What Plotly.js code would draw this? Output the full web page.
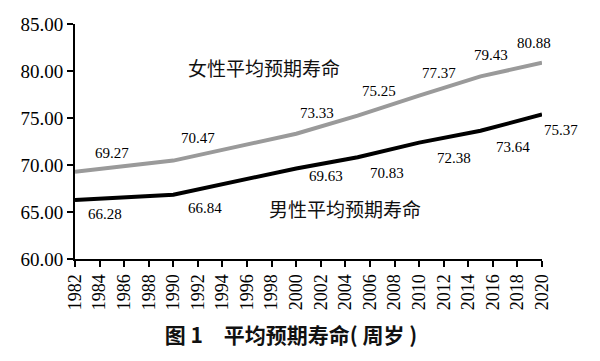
<!DOCTYPE html>
<html><head><meta charset="utf-8">
<script src="https://cdn.plot.ly/plotly-3.0.1.min.js"></script>
<style>html,body{margin:0;padding:0;background:#fff}#c{width:600px;height:361px}</style>
</head><body><div id="c"></div>
<script>
const years = [1982, 1990, 2000, 2005, 2010, 2015, 2020];
const female = [69.27, 70.47, 73.33, 75.25, 77.37, 79.43, 80.88];
const male = [66.28, 66.84, 69.63, 70.83, 72.38, 73.64, 75.37];
const xTicks = [1982,1984,1986,1988,1990,1992,1994,1996,1998,2000,2002,2004,2006,2008,2010,2012,2014,2016,2018,2020];
const yTicks = [60, 65, 70, 75, 80, 85];
const femaleName = '女性平均预期寿命';
const maleName = '男性平均预期寿命';
const chartTitle = '图 1\u3000平均预期寿命( 周岁 )';

// label pixel offsets (style)
const femaleOff = [[37,19],[25,23],[21,21],[21,25],[20,23],[10,21],[-8,20]];
const maleOff = [[30,-14],[32,-13],[30,-8],[29,-16],[35,-15],[32,-16],[19,-15]];

const serif = 'Liberation Serif';
const cjk = 'Noto Sans CJK SC';

const traces = [
  {x: years, y: female, mode: 'lines', line: {color: '#9a9a9a', width: 4}, hoverinfo: 'skip'},
  {x: years, y: male, mode: 'lines', line: {color: '#000', width: 4}, hoverinfo: 'skip'}
];

const ann = [];
years.forEach((yr, i) => {
  ann.push({x: yr, y: female[i], xref: 'x', yref: 'y', text: female[i].toFixed(2), showarrow: false,
    xanchor: 'center', yanchor: 'middle',
    xshift: femaleOff[i][0], yshift: femaleOff[i][1], font: {family: serif, size: 15, color: '#000'}});
  ann.push({x: yr, y: male[i], xref: 'x', yref: 'y', text: male[i].toFixed(2), showarrow: false,
    xanchor: 'center', yanchor: 'middle',
    xshift: maleOff[i][0], yshift: maleOff[i][1], font: {family: serif, size: 15, color: '#000'}});
});
ann.push({xref: 'paper', yref: 'paper', x: (264-75)/467.4, y: (259-67)/235, text: femaleName, showarrow: false,
  xanchor: 'center', yanchor: 'middle', font: {family: cjk, size: 19, color: '#111'}});
ann.push({xref: 'paper', yref: 'paper', x: (345-75)/467.4, y: (259-208)/235, text: maleName, showarrow: false,
  xanchor: 'center', yanchor: 'middle', font: {family: cjk, size: 19, color: '#111'}});

const layout = {
  width: 600, height: 361,
  margin: {l: 75, r: 57.6, t: 24, b: 102},
  paper_bgcolor: '#fff', plot_bgcolor: '#fff',
  showlegend: false,
  title: {text: '<b>' + chartTitle + '</b>', xref: 'container', yref: 'container', x: 291/600, xanchor: 'center',
    y: 1 - 336/361, yanchor: 'middle', font: {family: cjk, size: 21, color: '#111'}},
  xaxis: {range: [1982, 2020], tickvals: xTicks, ticktext: xTicks.map(String), tickangle: -90,
    showgrid: false, zeroline: false, showline: true, linecolor: '#000', linewidth: 2,
    ticks: 'outside', ticklen: 6, tickwidth: 2, tickcolor: '#000',
    tickfont: {family: serif, size: 18, color: '#000'}},
  yaxis: {range: [60, 85], tickvals: yTicks, ticktext: yTicks.map(v => v.toFixed(2)),
    showgrid: false, zeroline: false, showline: true, linecolor: '#000', linewidth: 2,
    ticks: 'outside', ticklen: 6, tickwidth: 2, tickcolor: '#000',
    tickfont: {family: serif, size: 19, color: '#000'}},
  annotations: ann
};
Plotly.newPlot('c', traces, layout, {staticPlot: true, displayModeBar: false});
</script></body></html>
